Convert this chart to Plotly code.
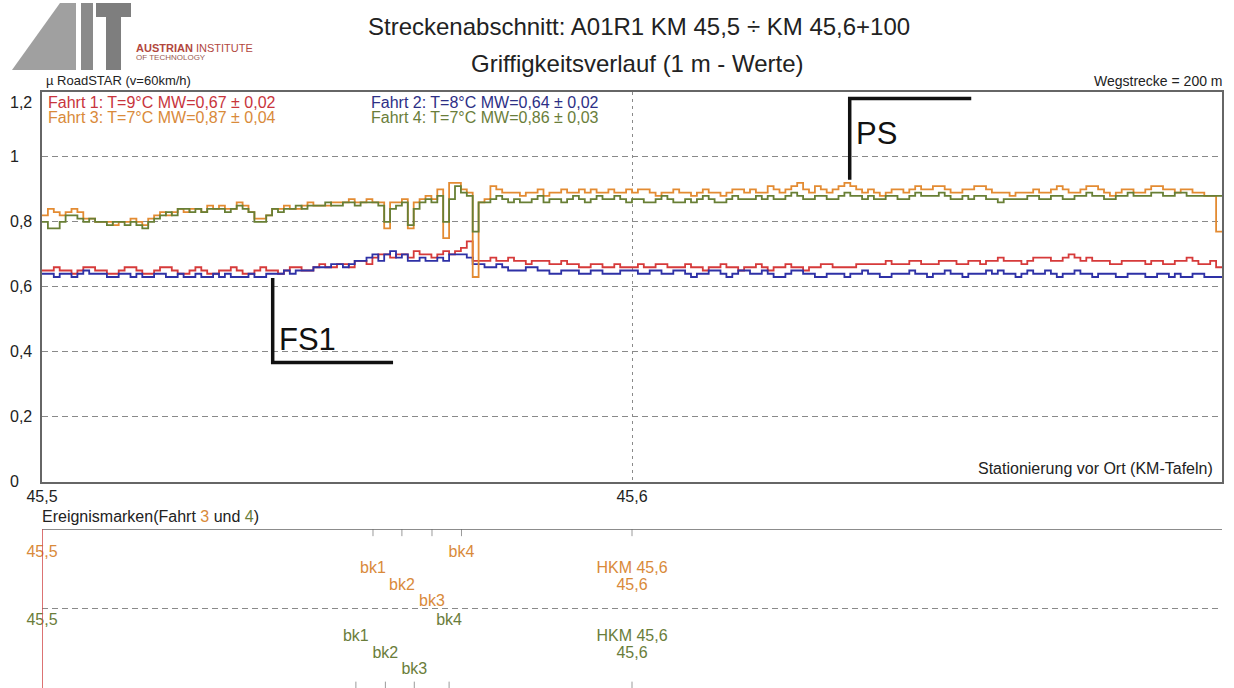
import plotly.graph_objects as go

# ---------------------------------------------------------------------------
# Griffigkeit (1 m values) for the four runs, starting at KM 45,500
# ---------------------------------------------------------------------------
km_start = 45.5
step_km = 0.001

fahrt1 = [
    0.65, 0.65, 0.66, 0.65, 0.65, 0.64, 0.65, 0.66, 0.66, 0.65,
    0.65, 0.64, 0.64, 0.65, 0.66, 0.66, 0.65, 0.64, 0.64, 0.65,
    0.66, 0.66, 0.65, 0.64, 0.64, 0.65, 0.66, 0.65, 0.64, 0.64,
    0.65, 0.65, 0.66, 0.65, 0.64, 0.64, 0.65, 0.66, 0.65, 0.65,
    0.64, 0.65, 0.66, 0.66, 0.65, 0.65, 0.66, 0.67, 0.66, 0.66,
    0.67, 0.67, 0.66, 0.68, 0.68, 0.67, 0.69, 0.70, 0.70, 0.69,
    0.70, 0.70, 0.69, 0.71, 0.70, 0.70, 0.69, 0.70, 0.71, 0.70,
    0.71, 0.72, 0.74, 0.68, 0.68, 0.68, 0.69, 0.68, 0.68, 0.69,
    0.68, 0.68, 0.67, 0.68, 0.68, 0.68, 0.67, 0.67, 0.68, 0.67,
    0.67, 0.66, 0.66, 0.67, 0.67, 0.66, 0.66, 0.67, 0.66, 0.66,
    0.66, 0.67, 0.66, 0.66, 0.67, 0.67, 0.66, 0.66, 0.66, 0.67,
    0.66, 0.66, 0.65, 0.66, 0.66, 0.67, 0.66, 0.66, 0.65, 0.66,
    0.66, 0.67, 0.66, 0.65, 0.66, 0.66, 0.67, 0.66, 0.66, 0.65,
    0.66, 0.66, 0.67, 0.67, 0.66, 0.66, 0.66, 0.66, 0.67, 0.67,
    0.67, 0.67, 0.67, 0.68, 0.67, 0.67, 0.67, 0.68, 0.68, 0.67,
    0.67, 0.67, 0.68, 0.68, 0.68, 0.67, 0.67, 0.68, 0.68, 0.67,
    0.68, 0.68, 0.69, 0.68, 0.68, 0.68, 0.67, 0.68, 0.69, 0.69,
    0.69, 0.68, 0.68, 0.69, 0.70, 0.69, 0.68, 0.69, 0.68, 0.68,
    0.68, 0.67, 0.67, 0.68, 0.68, 0.68, 0.68, 0.67, 0.68, 0.68,
    0.67, 0.67, 0.68, 0.68, 0.69, 0.68, 0.67, 0.67, 0.68, 0.66,
]

fahrt2 = [
    0.64, 0.64, 0.63, 0.64, 0.64, 0.63, 0.64, 0.65, 0.64, 0.64,
    0.64, 0.63, 0.63, 0.64, 0.64, 0.63, 0.64, 0.63, 0.63, 0.64,
    0.64, 0.63, 0.63, 0.64, 0.63, 0.63, 0.64, 0.63, 0.63, 0.64,
    0.63, 0.64, 0.63, 0.63, 0.63, 0.64, 0.63, 0.63, 0.64, 0.64,
    0.64, 0.65, 0.64, 0.65, 0.65, 0.65, 0.66, 0.66, 0.66, 0.67,
    0.67, 0.66, 0.67, 0.68, 0.68, 0.69, 0.70, 0.68, 0.70, 0.71,
    0.69, 0.70, 0.68, 0.68, 0.69, 0.68, 0.68, 0.69, 0.68, 0.70,
    0.70, 0.70, 0.69, 0.67, 0.67, 0.66, 0.66, 0.67, 0.66, 0.65,
    0.65, 0.65, 0.66, 0.66, 0.65, 0.65, 0.64, 0.64, 0.65, 0.65,
    0.65, 0.64, 0.64, 0.65, 0.65, 0.64, 0.64, 0.64, 0.65, 0.65,
    0.65, 0.64, 0.64, 0.65, 0.65, 0.64, 0.64, 0.65, 0.65, 0.64,
    0.63, 0.64, 0.64, 0.65, 0.65, 0.64, 0.63, 0.64, 0.65, 0.65,
    0.64, 0.64, 0.65, 0.64, 0.63, 0.63, 0.64, 0.65, 0.65, 0.64,
    0.64, 0.63, 0.63, 0.64, 0.64, 0.64, 0.63, 0.64, 0.64, 0.65,
    0.64, 0.64, 0.63, 0.63, 0.64, 0.64, 0.64, 0.65, 0.64, 0.64,
    0.63, 0.64, 0.64, 0.65, 0.64, 0.64, 0.63, 0.64, 0.64, 0.64,
    0.65, 0.64, 0.65, 0.64, 0.64, 0.63, 0.64, 0.65, 0.64, 0.64,
    0.65, 0.64, 0.63, 0.64, 0.64, 0.65, 0.64, 0.64, 0.63, 0.64,
    0.64, 0.64, 0.63, 0.63, 0.64, 0.64, 0.64, 0.63, 0.63, 0.64,
    0.64, 0.63, 0.64, 0.63, 0.63, 0.64, 0.64, 0.63, 0.63,
]

fahrt3 = [
    0.82, 0.84, 0.83, 0.82, 0.83, 0.84, 0.83, 0.81, 0.81, 0.80,
    0.80, 0.80, 0.79, 0.80, 0.80, 0.81, 0.80, 0.79, 0.81, 0.82,
    0.83, 0.82, 0.83, 0.84, 0.83, 0.84, 0.84, 0.83, 0.85, 0.84,
    0.85, 0.84, 0.84, 0.86, 0.85, 0.83, 0.81, 0.81, 0.82, 0.84,
    0.84, 0.85, 0.84, 0.84, 0.85, 0.86, 0.85, 0.85, 0.85, 0.86,
    0.86, 0.86, 0.87, 0.86, 0.86, 0.87, 0.86, 0.86, 0.78, 0.86,
    0.86, 0.87, 0.78, 0.86, 0.87, 0.88, 0.87, 0.90, 0.75, 0.92,
    0.92, 0.90, 0.89, 0.63, 0.86, 0.87, 0.91, 0.90, 0.89, 0.89,
    0.89, 0.88, 0.89, 0.89, 0.90, 0.88, 0.89, 0.89, 0.90, 0.89,
    0.89, 0.90, 0.89, 0.90, 0.89, 0.89, 0.90, 0.89, 0.89, 0.90,
    0.89, 0.90, 0.90, 0.89, 0.88, 0.89, 0.89, 0.90, 0.89, 0.89,
    0.88, 0.89, 0.90, 0.89, 0.89, 0.88, 0.89, 0.90, 0.90, 0.89,
    0.90, 0.89, 0.89, 0.91, 0.90, 0.89, 0.90, 0.91, 0.92, 0.90,
    0.89, 0.91, 0.90, 0.89, 0.90, 0.91, 0.92, 0.91, 0.90, 0.89,
    0.90, 0.89, 0.88, 0.89, 0.90, 0.90, 0.89, 0.90, 0.91, 0.90,
    0.90, 0.91, 0.91, 0.90, 0.89, 0.89, 0.90, 0.90, 0.91, 0.91,
    0.90, 0.89, 0.89, 0.89, 0.88, 0.89, 0.89, 0.89, 0.90, 0.89,
    0.89, 0.90, 0.91, 0.90, 0.89, 0.89, 0.90, 0.91, 0.91, 0.90,
    0.89, 0.88, 0.89, 0.90, 0.90, 0.89, 0.89, 0.90, 0.91, 0.91,
    0.90, 0.90, 0.89, 0.90, 0.90, 0.89, 0.89, 0.88, 0.88, 0.77,
]

fahrt4 = [
    0.80, 0.78, 0.78, 0.80, 0.82, 0.82, 0.81, 0.80, 0.81, 0.80,
    0.80, 0.79, 0.80, 0.80, 0.79, 0.80, 0.79, 0.78, 0.80, 0.81,
    0.82, 0.83, 0.82, 0.84, 0.84, 0.83, 0.84, 0.83, 0.84, 0.84,
    0.84, 0.83, 0.84, 0.85, 0.84, 0.83, 0.80, 0.80, 0.82, 0.84,
    0.83, 0.84, 0.84, 0.85, 0.84, 0.85, 0.85, 0.85, 0.86, 0.85,
    0.85, 0.86, 0.86, 0.85, 0.86, 0.86, 0.86, 0.85, 0.80, 0.84,
    0.85, 0.86, 0.79, 0.84, 0.86, 0.87, 0.86, 0.88, 0.80, 0.87,
    0.91, 0.89, 0.88, 0.77, 0.86, 0.86, 0.87, 0.88, 0.87, 0.86,
    0.87, 0.86, 0.86, 0.87, 0.88, 0.86, 0.87, 0.87, 0.86, 0.87,
    0.88, 0.87, 0.86, 0.87, 0.88, 0.87, 0.87, 0.88, 0.87, 0.86,
    0.87, 0.87, 0.86, 0.86, 0.87, 0.88, 0.87, 0.86, 0.86, 0.87,
    0.86, 0.87, 0.88, 0.87, 0.86, 0.86, 0.87, 0.88, 0.87, 0.87,
    0.87, 0.88, 0.87, 0.88, 0.87, 0.87, 0.88, 0.89, 0.88, 0.87,
    0.87, 0.88, 0.88, 0.87, 0.87, 0.88, 0.89, 0.88, 0.88, 0.87,
    0.88, 0.87, 0.87, 0.88, 0.88, 0.87, 0.87, 0.88, 0.89, 0.88,
    0.88, 0.88, 0.89, 0.88, 0.87, 0.87, 0.88, 0.87, 0.88, 0.88,
    0.87, 0.87, 0.86, 0.87, 0.87, 0.87, 0.87, 0.88, 0.88, 0.87,
    0.87, 0.88, 0.88, 0.87, 0.87, 0.88, 0.88, 0.89, 0.88, 0.88,
    0.87, 0.87, 0.88, 0.88, 0.89, 0.88, 0.88, 0.88, 0.89, 0.89,
    0.88, 0.88, 0.89, 0.89, 0.88, 0.88, 0.88, 0.88, 0.88, 0.88,
]

# run summary (temperature, mean, standard deviation)
run_numbers = [1, 2, 3, 4]
run_temps = [9, 8, 7, 7]
run_means = [0.67, 0.64, 0.87, 0.86]
run_sds = [0.02, 0.02, 0.04, 0.03]

# axis ticks
y_ticks = [0, 0.2, 0.4, 0.6, 0.8, 1.0, 1.2]
y_tick_text = ["0", "0,2", "0,4", "0,6", "0,8", "1", "1,2"]
x_ticks = [45.5, 45.6]
x_tick_text = ["45,5", "45,6"]

# event marks of runs 3 and 4
event_labels = ["45,5", "bk1", "bk2", "bk3", "bk4", "HKM 45,6", "45,6"]
events_f3_km = [45.5, 45.5561, 45.5610, 45.5661, 45.5711, 45.6, 45.6]
events_f4_km = [45.5, 45.5532, 45.5582, 45.5631, 45.5690, 45.6, 45.6]

# section markers (label, km, mu at line end)
section_labels = ["PS", "FS1"]
section_km = [45.6369, 45.5391]
section_mu = [0.93, 0.627]

# ---------------------------------------------------------------------------
# styling
# ---------------------------------------------------------------------------
W, H = 1234, 688
FONT = "Liberation Sans, Arial, Helvetica, sans-serif"
colors = ["#d63a3a", "#2e31a6", "#e38b32", "#687f35"]
text_colors = ["#c8343c", "#2c2f86", "#d98a3a", "#6a7d3a"]
GRID = "#8a8a8a"
FRAME = "#666666"
label_row = [0, 1, 2, 3, 0, 1, 2]


def px(x):
    return x / W


def py(y):
    return 1 - y / H


x_dom = [px(42), px(1222)]
y_dom_top = [py(481.5), py(92)]
y_dom_bot = [0, py(529)]
x_range = [45.5, 45.7]

fig = go.Figure()

# step lines, one per run
for series, col in zip([fahrt1, fahrt2, fahrt3, fahrt4], colors):
    xs = [km_start + i * step_km for i in range(len(series))] + [x_range[1]]
    ys = list(series) + [series[-1]]
    fig.add_trace(go.Scatter(
        x=xs, y=ys, mode="lines", line=dict(color=col, width=1.8, shape="hv"),
        xaxis="x", yaxis="y", hoverinfo="skip", showlegend=False,
    ))

# section markers: vertical leader + horizontal bar
sec_len_mu = [0.25, -0.26]
sec_bar_km = [0.0206, 0.0204]
for lab, k, m, dl, bk in zip(section_labels, section_km, section_mu, sec_len_mu, sec_bar_km):
    y_end = m + dl
    fig.add_trace(go.Scatter(
        x=[k, k, k + bk], y=[m, y_end, y_end], mode="lines",
        line=dict(color="#111111", width=3.5), xaxis="x", yaxis="y",
        hoverinfo="skip", showlegend=False,
    ))

fig.add_annotation(x=section_km[0], y=section_mu[0] + 0.143, xref="x", yref="y",
                   text="PS", showarrow=False, xanchor="left", yanchor="middle",
                   xshift=4, font=dict(size=31, color="#111111", family=FONT))
fig.add_annotation(x=section_km[1], y=section_mu[1] - 0.19, xref="x", yref="y",
                   text="FS1", showarrow=False, xanchor="left", yanchor="middle",
                   xshift=4, font=dict(size=31, color="#111111", family=FONT))

# event marks (bottom panel)
row_base = [8.48, 4.21]
row_step = 1.02
for r, (kms, col) in enumerate(zip([events_f3_km, events_f4_km], text_colors[2:])):
    ys = [row_base[r] - row_step * lr for lr in label_row]
    fig.add_trace(go.Scatter(
        x=kms, y=ys, mode="text", text=event_labels, textposition="middle center",
        textfont=dict(size=16, color=col, family=FONT), xaxis="x2", yaxis="y2",
        hoverinfo="skip", showlegend=False, cliponaxis=False,
    ))
    tick_x, tick_y = [], []
    y0, y1 = (10, 9.55) if r == 0 else (0.4, 0)
    for k in sorted(set(kms)):
        if k <= x_range[0]:
            continue
        tick_x += [k, k, None]
        tick_y += [y0, y1, None]
    fig.add_trace(go.Scatter(
        x=tick_x, y=tick_y, mode="lines", line=dict(color="#9a9a9a", width=1),
        xaxis="x2", yaxis="y2", hoverinfo="skip", showlegend=False,
    ))

# ---------------------------------------------------------------------------
# axes
# ---------------------------------------------------------------------------
fig.update_layout(
    width=W, height=H, margin=dict(l=0, r=0, t=0, b=0, autoexpand=False),
    paper_bgcolor="white", plot_bgcolor="white",
    font=dict(family=FONT, color="#222222"),
    xaxis=dict(domain=x_dom, range=x_range, anchor="y", automargin=False,
               tickvals=x_ticks, ticktext=x_tick_text, ticks="",
               tickfont=dict(size=16, color="#222222"),
               showgrid=True, gridcolor=GRID, griddash="3px,4px", gridwidth=1,
               showline=True, mirror=True, linecolor=FRAME, linewidth=1.5,
               zeroline=False),
    yaxis=dict(domain=y_dom_top, range=[0, 1.2], anchor="x", automargin=False,
               tickvals=y_ticks, showticklabels=False, ticks="",
               showgrid=True, gridcolor=GRID, griddash="6px,4px", gridwidth=1,
               showline=True, mirror=True, linecolor=FRAME, linewidth=1.5,
               zeroline=False),
    xaxis2=dict(domain=x_dom, range=x_range, anchor="y2", showgrid=False, automargin=False,
                showticklabels=False, showline=False, zeroline=False),
    yaxis2=dict(domain=y_dom_bot, range=[0, 10], anchor="x2", showgrid=False, automargin=False,
                showticklabels=False, showline=False, zeroline=False),
)

# bottom panel frame pieces
fig.add_shape(type="line", xref="x2", yref="y2", x0=x_range[0], x1=x_range[1], y0=10, y1=10,
              line=dict(color=FRAME, width=1.5))
fig.add_shape(type="line", xref="x2", yref="y2", x0=x_range[0], x1=x_range[1], y0=5, y1=5,
              line=dict(color=GRID, width=1, dash="6px,4px"))
fig.add_shape(type="line", xref="x2", yref="y2", x0=x_range[0], x1=x_range[0], y0=0, y1=10,
              line=dict(color="#d04545", width=1.5))

# y tick labels, left aligned
for v, t in zip(y_ticks, y_tick_text):
    fig.add_annotation(x=px(8), y=v, xref="paper", yref="y", text=t, showarrow=False,
                       xanchor="left", yanchor="top" if v == y_ticks[-1] else "middle",
                       font=dict(size=16, color="#222222", family=FONT))

# legend texts inside the plot
leg_x = [46, 369, 46, 369]
leg_y = [103, 103, 118, 118]
for n, t, mw, sd, col, lx, ly in zip(run_numbers, run_temps, run_means, run_sds,
                                      text_colors, leg_x, leg_y):
    txt = f"Fahrt {n}: T={t}°C MW={mw:.2f} ± {sd:.2f}".replace(".", ",")
    fig.add_annotation(x=px(lx), y=py(ly), xref="paper", yref="paper", text=txt,
                       showarrow=False, xanchor="left", yanchor="middle",
                       font=dict(size=16, color=col, family=FONT))

# titles and captions
fig.add_annotation(x=px(639), y=py(27), xref="paper", yref="paper",
                   text="Streckenabschnitt: A01R1 KM 45,5 ÷ KM 45,6+100", showarrow=False,
                   xanchor="center", yanchor="middle", font=dict(size=24, color="#222222", family=FONT))
fig.add_annotation(x=px(637), y=py(64), xref="paper", yref="paper",
                   text="Griffigkeitsverlauf (1 m - Werte)", showarrow=False,
                   xanchor="center", yanchor="middle", font=dict(size=24, color="#222222", family=FONT))
fig.add_annotation(x=px(44), y=py(81), xref="paper", yref="paper",
                   text="µ RoadSTAR (v=60km/h)", showarrow=False,
                   xanchor="left", yanchor="middle", font=dict(size=13, color="#222222", family=FONT))
fig.add_annotation(x=px(1225), y=py(81), xref="paper", yref="paper",
                   text="Wegstrecke = 200 m", showarrow=False,
                   xanchor="right", yanchor="middle", font=dict(size=14, color="#222222", family=FONT))
fig.add_annotation(x=px(1215), y=py(468), xref="paper", yref="paper",
                   text="Stationierung vor Ort (KM-Tafeln)", showarrow=False,
                   xanchor="right", yanchor="middle", font=dict(size=16, color="#222222", family=FONT))
fig.add_annotation(x=px(40), y=py(516), xref="paper", yref="paper",
                   text=(f"Ereignismarken(Fahrt <span style='color:{text_colors[2]}'>3</span> und "
                         f"<span style='color:{text_colors[3]}'>4</span>)"),
                   showarrow=False, xanchor="left", yanchor="middle",
                   font=dict(size=16, color="#222222", family=FONT))

# institute logo: slanted "A", "I" bar and "T"
logo_paths = [
    "M 12 70 L 60 3 L 76 3 L 76 70 Z",
    "M 81 3 L 93 3 L 93 70 L 81 70 Z",
    "M 96 3 L 131 3 L 131 17 L 121 17 L 121 70 L 106 70 L 106 17 L 96 17 Z",
]
logo_fills = ["#a0a0a0", "#8a8a8a", "#7e7e7e"]


def to_paper_path(p):
    out = []
    toks = p.split()
    i = 0
    while i < len(toks):
        t = toks[i]
        if t in ("M", "L"):
            out.append(f"{t} {px(float(toks[i + 1])):.5f},{py(float(toks[i + 2])):.5f}")
            i += 3
        else:
            out.append(t)
            i += 1
    return " ".join(out)


for p, fc in zip(logo_paths, logo_fills):
    fig.add_shape(type="path", xref="paper", yref="paper", path=to_paper_path(p),
                  fillcolor=fc, line=dict(width=0))

fig.add_annotation(x=px(134), y=py(48), xref="paper", yref="paper",
                   text="<b>AUSTRIAN</b> INSTITUTE", showarrow=False, xanchor="left", yanchor="middle",
                   font=dict(size=11, color="#b2473e", family=FONT))
fig.add_annotation(x=px(134), y=py(57), xref="paper", yref="paper",
                   text="OF TECHNOLOGY", showarrow=False, xanchor="left", yanchor="middle",
                   font=dict(size=8, color="#9a5a52", family=FONT))

fig.write_html("out.html")
